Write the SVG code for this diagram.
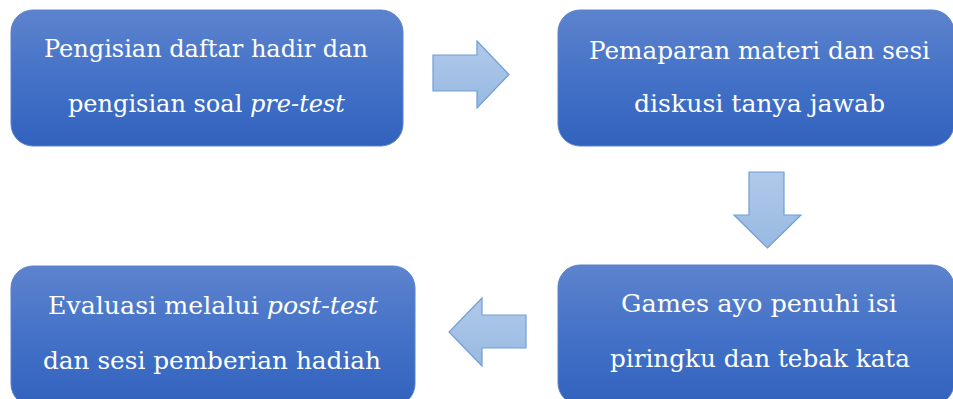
<svg xmlns="http://www.w3.org/2000/svg" width="953" height="399" viewBox="0 0 953 399">
<defs>
<linearGradient id="boxg" x1="0" y1="0" x2="0" y2="1">
<stop offset="0" stop-color="#5d83cd"/>
<stop offset="0.5" stop-color="#4472c8"/>
<stop offset="1" stop-color="#3162bd"/>
</linearGradient>
<linearGradient id="arrg" x1="0" y1="0" x2="0" y2="1">
<stop offset="0" stop-color="#b0c9e9"/>
<stop offset="1" stop-color="#98b9e2"/>
</linearGradient>
<style>
.box{fill:url(#boxg);stroke:#5b82cc;stroke-width:1}
.arr{fill:url(#arrg);stroke:#6e9fd6;stroke-width:1.2;stroke-linejoin:miter}
.t{font-family:"DejaVu Serif","Liberation Serif",serif;font-size:25px;fill:#ffffff;text-anchor:middle}
.i{font-style:italic}
</style>
</defs>
<rect width="953" height="399" fill="#ffffff"/>
<g id="n1">
<rect class="box" x="11" y="10" width="392" height="136" rx="22"/>
<text class="t" x="206" y="57" textLength="324" lengthAdjust="spacingAndGlyphs">Pengisian daftar hadir dan</text>
<text class="t" x="206.5" y="112" textLength="277" lengthAdjust="spacingAndGlyphs">pengisian soal <tspan class="i">pre-test</tspan></text>
</g>
<g id="n2">
<rect class="box" x="558" y="10" width="396" height="136" rx="22"/>
<text class="t" x="759.5" y="59" textLength="341" lengthAdjust="spacingAndGlyphs">Pemaparan materi dan sesi</text>
<text class="t" x="759.5" y="112" textLength="251" lengthAdjust="spacingAndGlyphs">diskusi tanya jawab</text>
</g>
<g id="n3">
<rect class="box" x="558" y="265" width="396" height="140" rx="22"/>
<text class="t" x="759" y="312" textLength="276" lengthAdjust="spacingAndGlyphs">Games ayo penuhi isi</text>
<text class="t" x="760" y="367" textLength="300" lengthAdjust="spacingAndGlyphs">piringku dan tebak kata</text>
</g>
<g id="n4">
<rect class="box" x="11" y="266" width="404" height="140" rx="22"/>
<text class="t" x="213" y="314" textLength="330" lengthAdjust="spacingAndGlyphs">Evaluasi melalui <tspan class="i">post-test</tspan></text>
<text class="t" x="212" y="369" textLength="338" lengthAdjust="spacingAndGlyphs">dan sesi pemberian hadiah</text>
</g>
<g id="connectors">
<polygon class="arr" points="433,55 477,55 477,41 509,74.5 477,108 477,91 433,91"/>
<polygon class="arr" points="749,172 784,172 784,215 801,215 767.5,248 734,215 749,215"/>
<polygon class="arr" points="526,315 482,315 482,298 449,332 482,366 482,348 526,348"/>
</g>
</svg>
